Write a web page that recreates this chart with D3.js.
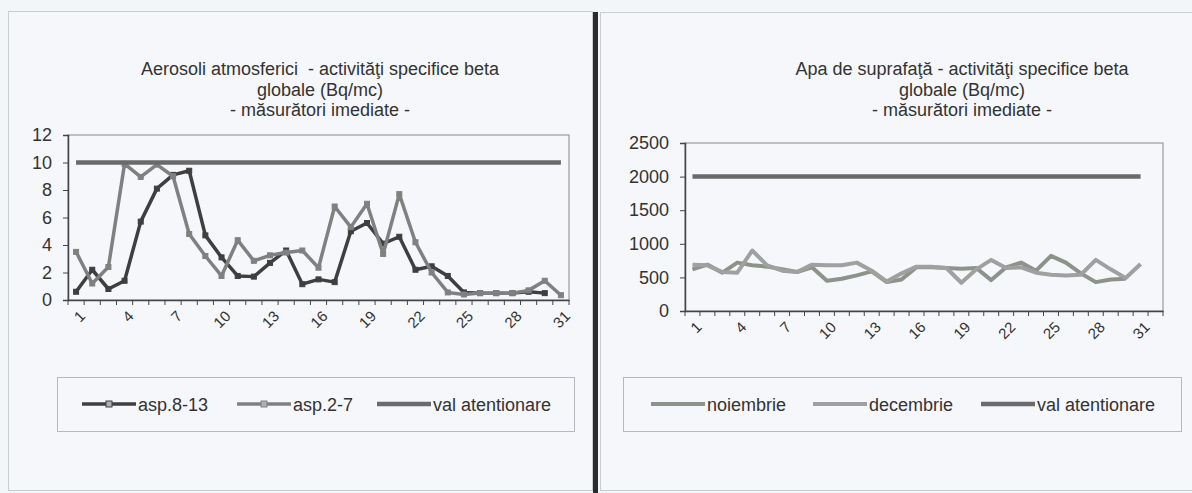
<!DOCTYPE html>
<html lang="ro">
<head>
<meta charset="UTF-8">
<title>Activitati specifice beta globale</title>
<style>
  body { margin: 0; background: #f3f6f9; }
  svg { display: block; font-family: "Liberation Sans", Arial, sans-serif; }
  .axis text { fill: #333; }
  .title { white-space: pre; }
</style>
<script src="https://d3js.org/d3.v7.min.js"></script>
</head>
<body>
<svg width="1192" height="493"></svg>
<script>
// --- data ---
const days = d3.range(1, 32);

// left chart: aerosoli atmosferici (Bq/mc)
const asp813 = [0.6, 2.2, 0.8, 1.4, 5.7, 8.1, 9.1, 9.4, 4.7, 3.1, 1.75, 1.7, 2.7, 3.6, 1.15,
  1.5, 1.3, 5.0, 5.6, 4.1, 4.6, 2.2, 2.45, 1.75, 0.55, 0.5, 0.5, 0.5, 0.6, 0.5, null];
const asp27 = [3.5, 1.2, 2.4, 9.9, 8.95, 9.85, 9.0, 4.8, 3.2, 1.75, 4.35, 2.85, 3.25, 3.45, 3.6,
  2.35, 6.8, 5.3, 7.0, 3.35, 7.7, 4.2, 2.0, 0.55, 0.4, 0.5, 0.5, 0.5, 0.7, 1.4, 0.35];
const valAtentLeft = days.map(() => 10);
const leftTicks = [0, 2, 4, 6, 8, 10, 12];

// right chart: apa de suprafata
const noiembrie = [620, 690, 570, 720, 680, 660, 620, 580, 650, 450, 480, 530, 590, 430, 470,
  650, 650, 640, 630, 640, 460, 650, 720, 600, 820, 720, 560, 430, 470, 480, null];
const decembrie = [690, 680, 580, 570, 900, 680, 600, 580, 690, 680, 680, 720, 600, 440, 560,
  660, 660, 640, 420, 620, 760, 640, 650, 570, 540, 530, 540, 760, 620, 490, 700];
const valAtentRight = days.map(() => 2000);
const rightTicks = [0, 500, 1000, 1500, 2000, 2500];

const svg = d3.select("svg");

// panel frames and the dark divider between the two scanned pages
svg.append("rect").attr("x", 8.5).attr("y", 11.5).attr("width", 584).attr("height", 479)
  .attr("fill", "#f5f7fa").attr("stroke", "#c9ccd0");
svg.append("rect").attr("x", 600.5).attr("y", 12.5).attr("width", 600).attr("height", 478)
  .attr("fill", "#f5f7fa").attr("stroke", "#c9ccd0");
svg.append("rect").attr("x", 593).attr("y", 12).attr("width", 5).attr("height", 481)
  .attr("fill", "#2b2b2b");

function drawChart(cfg) {
  const g = svg.append("g");
  const x = d3.scaleBand().domain(d3.range(1, cfg.nCats + 1))
    .range([cfg.left, cfg.right]).paddingInner(0).paddingOuter(0);
  const y = d3.scaleLinear().domain([0, cfg.yMax]).range([cfg.bottom, cfg.top]);
  const cx = d => x(d) + x.bandwidth() / 2;

  // title
  const t = g.append("text").attr("class", "title").attr("x", cfg.titleX).attr("y", 75)
    .attr("text-anchor", "middle").attr("font-size", 18).attr("fill", "#333");
  cfg.title.forEach((line, i) => {
    t.append("tspan").attr("x", cfg.titleX).attr("dy", i ? 20.5 : 0).text(line);
  });

  // plot frame
  g.append("rect").attr("x", cfg.left).attr("y", cfg.top)
    .attr("width", cfg.right - cfg.left).attr("height", cfg.bottom - cfg.top)
    .attr("fill", "none").attr("stroke", "#9a9a9a").attr("stroke-width", 1.2);

  // y axis
  const ya = g.append("g").attr("class", "axis")
    .attr("transform", `translate(${cfg.left},0)`)
    .call(d3.axisLeft(y).tickValues(cfg.yTicks).tickFormat(d3.format("d"))
      .tickSize(5).tickPadding(11));
  ya.select(".domain").attr("stroke", "#444").attr("stroke-width", 1.5);
  ya.selectAll(".tick line").attr("stroke", "#444");
  ya.selectAll("text").attr("font-size", 18);

  // x axis: ticks on the band boundaries, labels every third day
  const xa = g.append("g").attr("class", "axis")
    .attr("transform", `translate(0,${cfg.bottom})`)
    .call(d3.axisBottom(x).tickSize(0).tickValues(days.filter(d => (d - 1) % 3 === 0)));
  xa.select(".domain").attr("stroke", "#444").attr("stroke-width", 1.5);
  xa.selectAll("text")
    .attr("font-size", 15)
    .attr("text-anchor", "end")
    .attr("dy", 0)
    .attr("transform", "translate(8,15) rotate(-45)");
  g.selectAll(".bt").data(d3.range(0, cfg.nCats + 1)).join("line")
    .attr("x1", i => cfg.left + i * x.step()).attr("x2", i => cfg.left + i * x.step())
    .attr("y1", cfg.bottom).attr("y2", cfg.bottom + 5)
    .attr("stroke", "#444");

  // series
  const line = d3.line().defined(d => d[1] != null).x(d => cx(d[0])).y(d => y(d[1]));
  cfg.series.forEach(s => {
    const pts = days.map((d, i) => [d, s.values[i]]);
    g.append("path").datum(pts).attr("d", line)
      .attr("fill", "none").attr("stroke", s.color).attr("stroke-width", s.width)
      .attr("stroke-linejoin", "round");
    if (s.marker) {
      g.selectAll(null).data(pts.filter(p => p[1] != null)).join("rect")
        .attr("x", p => cx(p[0]) - 2.5).attr("y", p => y(p[1]) - 2.5)
        .attr("width", 5).attr("height", 5)
        .attr("fill", s.color).attr("stroke", s.color);
    }
  });

  // legend
  const lg = g.append("g");
  lg.append("rect").attr("x", cfg.legend.x).attr("y", 377.5)
    .attr("width", cfg.legend.w).attr("height", 54)
    .attr("fill", "none").attr("stroke", "#b5b8bc");
  cfg.series.forEach((s, i) => {
    const lx = cfg.legend.items[i];
    lg.append("line").attr("x1", lx).attr("x2", lx + 54).attr("y1", 404).attr("y2", 404)
      .attr("stroke", s.color).attr("stroke-width", s.width);
    if (s.marker) {
      lg.append("rect").attr("x", lx + 24).attr("y", 401).attr("width", 6).attr("height", 6)
        .attr("fill", "#b0b0b0").attr("stroke", s.color);
    }
    lg.append("text").attr("x", lx + 56).attr("y", 410.5).attr("font-size", 18)
      .attr("fill", "#333").text(s.name);
  });
}

drawChart({
  title: ["Aerosoli atmosferici  - activităţi specifice beta", "globale (Bq/mc)", "- măsurători imediate -"],
  titleX: 320,
  left: 68, right: 569, top: 135, bottom: 300,
  nCats: 31, yMax: 12, yTicks: leftTicks,
  series: [
    { name: "asp.8-13", values: asp813, color: "#3f3f3f", width: 3.5, marker: true },
    { name: "asp.2-7", values: asp27, color: "#808080", width: 3.5, marker: true },
    { name: "val atentionare", values: valAtentLeft, color: "#6a6a6a", width: 4.5, marker: false }
  ],
  legend: { x: 57.5, w: 517, items: [82, 237, 377] }
});

drawChart({
  title: ["Apa de suprafaţă - activităţi specifice beta", "globale (Bq/mc)", "- măsurători imediate -"],
  titleX: 962,
  left: 685, right: 1163, top: 143, bottom: 311,
  nCats: 32, yMax: 2500, yTicks: rightTicks,
  series: [
    { name: "noiembrie", values: noiembrie, color: "#8d9389", width: 4, marker: false },
    { name: "decembrie", values: decembrie, color: "#a0a0a0", width: 4, marker: false },
    { name: "val atentionare", values: valAtentRight, color: "#6a6a6a", width: 4.5, marker: false }
  ],
  legend: { x: 623.5, w: 558, items: [651, 813, 981] }
});
</script>
</body>
</html>
